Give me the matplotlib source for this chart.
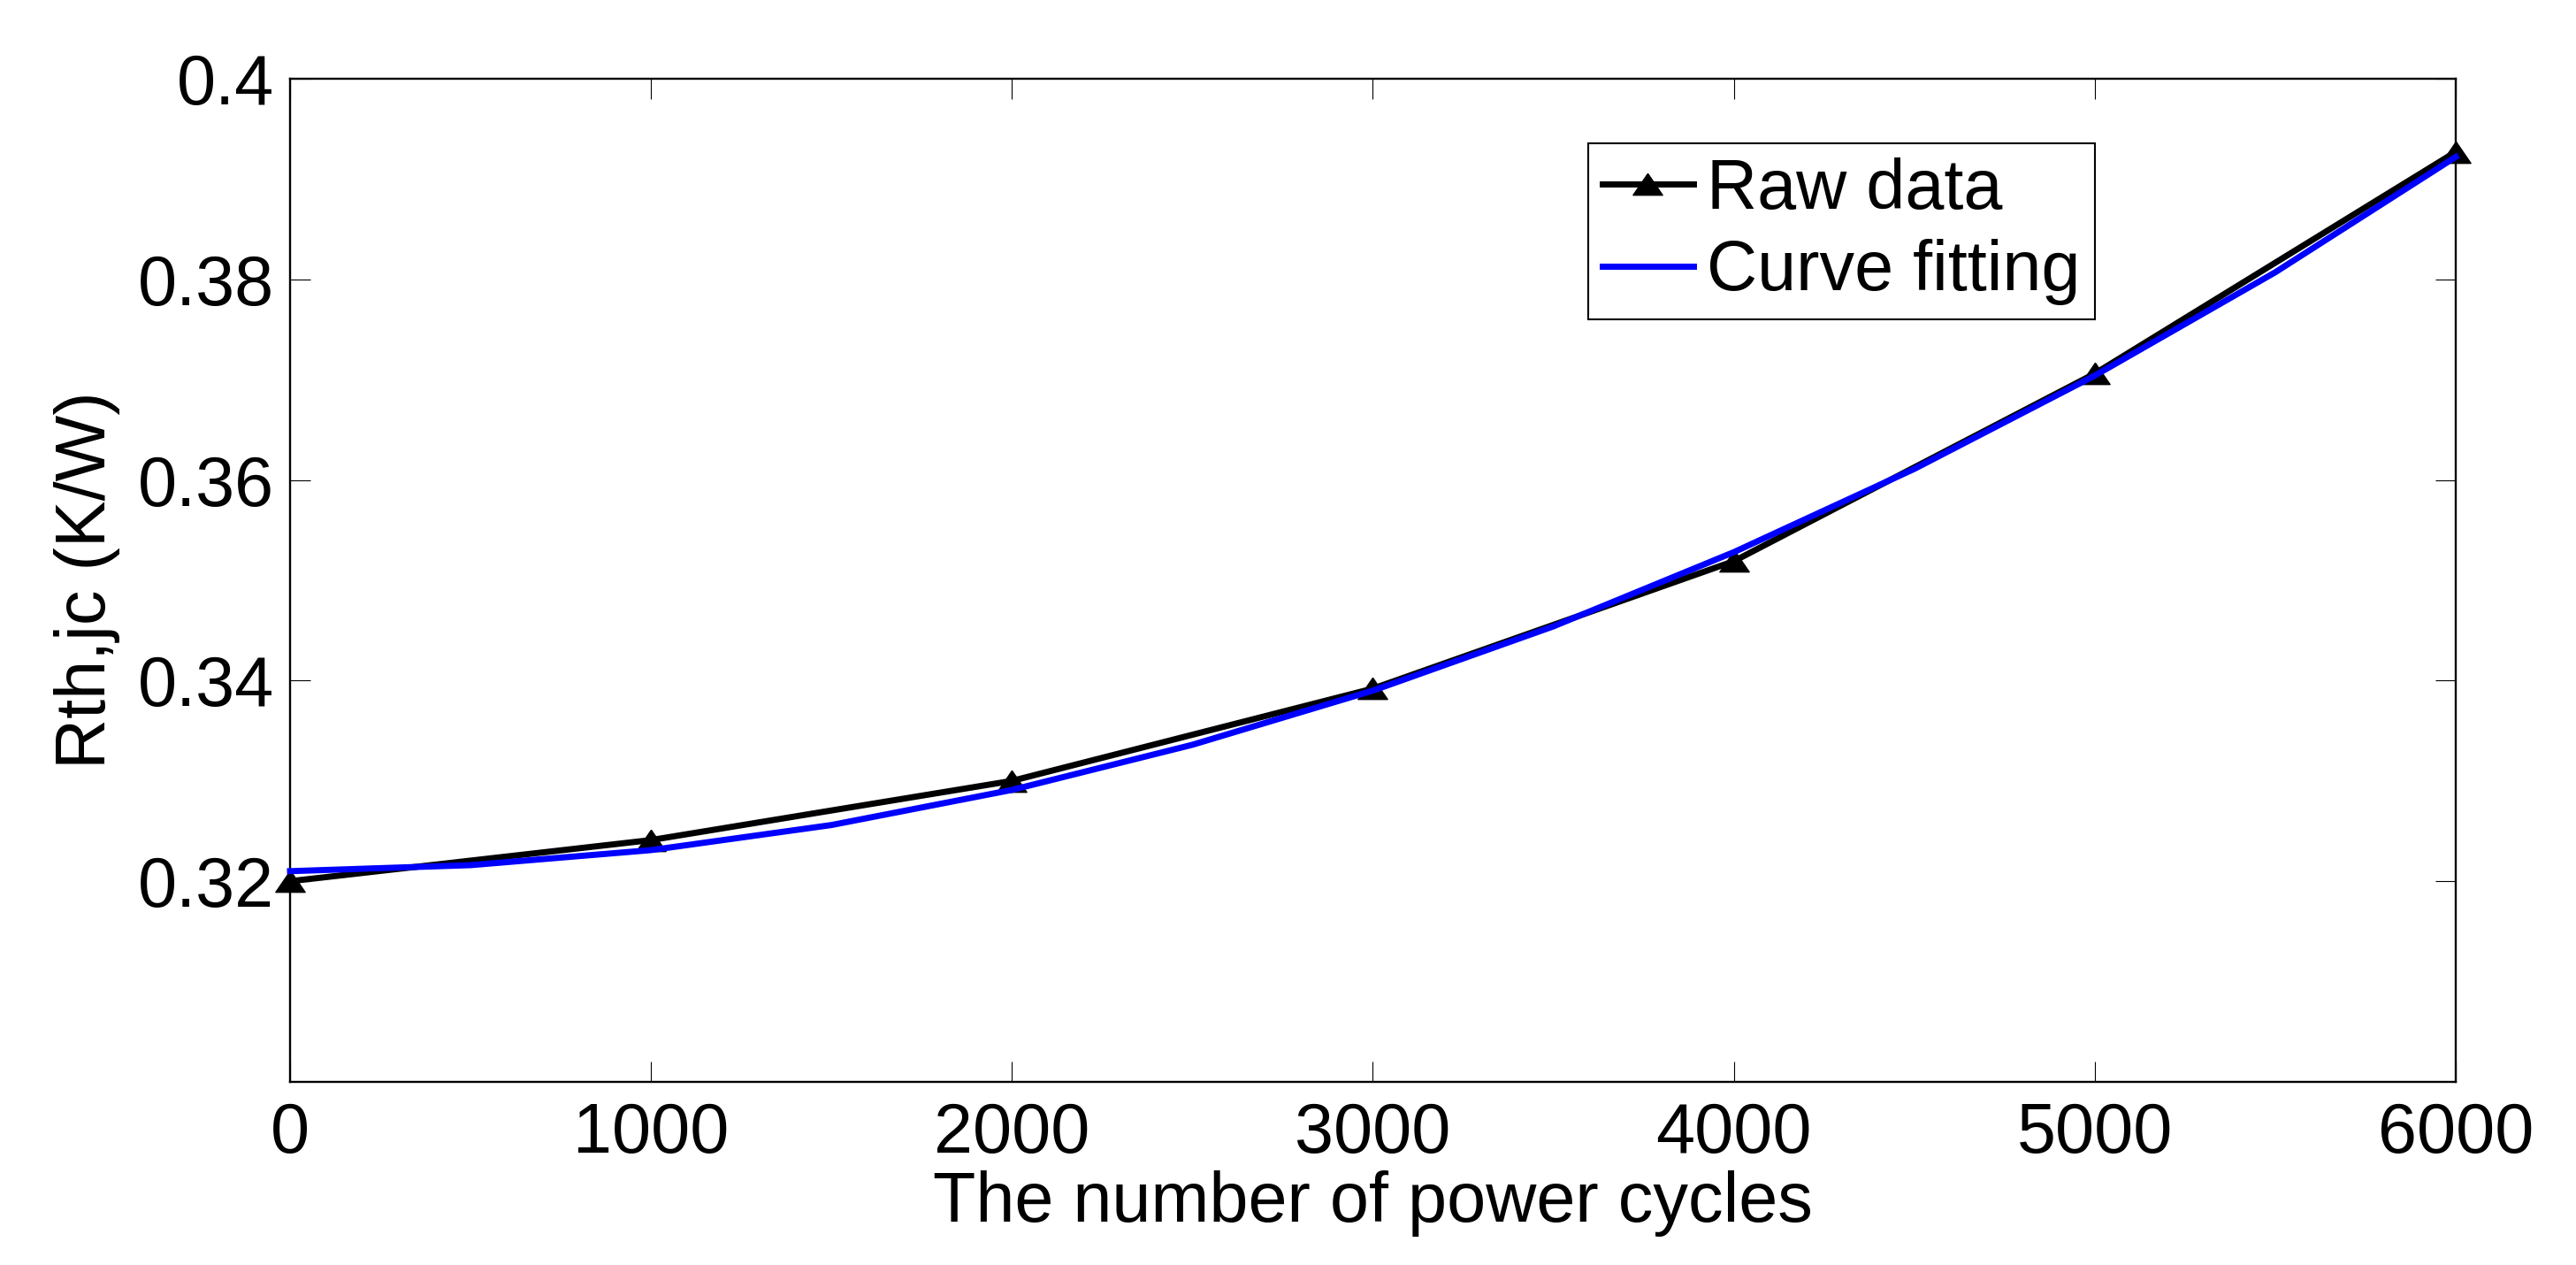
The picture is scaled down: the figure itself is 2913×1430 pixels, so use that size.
import numpy as np
import matplotlib
matplotlib.use("Agg")
import matplotlib.pyplot as plt

# ================= DATA =================
cycles = [0, 1000, 2000, 3000, 4000, 5000, 6000]
rth_raw = [0.3200, 0.3241, 0.3300, 0.3392, 0.3519, 0.3706, 0.3927]

# fitted curve, every 500 cycles
fit_cycles = [0, 500, 1000, 1500, 2000, 2500, 3000, 3500, 4000, 4500, 5000, 5500, 6000]
rth_fit = [0.3210, 0.3216, 0.3231, 0.3256, 0.3291, 0.3336, 0.3390,
           0.3454, 0.3528, 0.3611, 0.3704, 0.3807, 0.3922]

x_ticks = [0, 1000, 2000, 3000, 4000, 5000, 6000]
y_ticks = [0.32, 0.34, 0.36, 0.38, 0.40]
y_tick_labels = ["0.32", "0.34", "0.36", "0.38", "0.4"]

# ================= SETTINGS =================
plt.rcParams.update({
    "font.family": ["Liberation Sans", "DejaVu Sans"],
    "font.size": 57,
    "axes.linewidth": 1.7,
})

# flat MATLAB-like triangle
tri = [(0, 0.73), (-1, -0.73), (1, -0.73), (0, 0.73)]

fig = plt.figure(figsize=(29.13, 14.30), dpi=100)
ax = fig.add_axes([0.1126, 0.1448, 0.9533 - 0.1126, 0.9378 - 0.1448])

ax.plot(cycles, rth_raw, color="black", linewidth=5, marker=tri,
        markersize=24, markerfacecolor="black", markeredgecolor="black",
        label="Raw data", clip_on=False, zorder=3)
ax.plot(fit_cycles, rth_fit, color=(0, 0, 1), linewidth=5,
        label="Curve fitting", clip_on=False, zorder=4)

ax.set_xlim(0, 6000)
ax.set_ylim(0.30, 0.40)
ax.set_xticks(x_ticks)
ax.set_yticks(y_ticks)
ax.set_yticklabels(y_tick_labels)

ax.tick_params(direction="in", length=16.5, width=0.8, top=True, right=True)
ax.tick_params(axis="x", pad=16)
ax.tick_params(axis="y", pad=13)

ax.set_xlabel("The number of power cycles", labelpad=2)
ax.set_ylabel("Rth,jc (K/W)", labelpad=14)

leg = ax.legend(loc="upper left", bbox_to_anchor=(0.5994, 0.9356),
                borderaxespad=0, fancybox=False, framealpha=1,
                edgecolor="black", handlelength=1.3, handletextpad=0.2,
                borderpad=0.2, labelspacing=0.22)
leg.get_frame().set_linewidth(1.5)

fig.savefig("out.png", dpi=100)
